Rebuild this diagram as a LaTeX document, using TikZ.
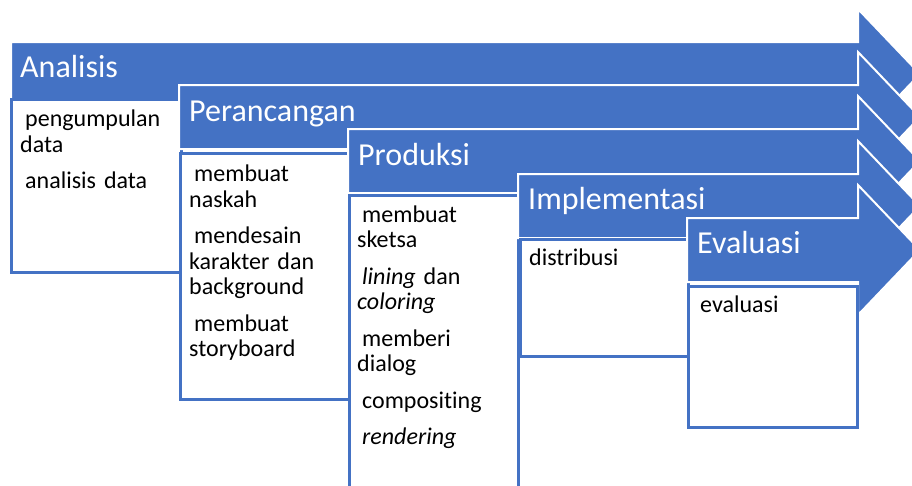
\documentclass[tikz,border=0pt]{standalone}
\usepackage{fontspec}
\setmainfont[Ligatures=NoCommon]{Carlito}
\definecolor{stageblue}{HTML}{4472C4}
\newcommand{\indentsp}{\hspace*{5pt}}
\tikzset{
  stagearrow/.style={fill=stageblue, draw=white, line width=2pt, line join=miter},
  stagebox/.style={draw=stageblue, fill=white, line width=2.5pt, anchor=north west, inner sep=0pt},
  headtext/.style={anchor=base west, inner sep=0pt, text=white, font=\fontsize{32}{38}\selectfont},
  itemtext/.style={anchor=base west, inner sep=0pt, text width=150pt, font=\fontsize{24}{25.5}\selectfont}
}
\begin{document}
\begin{tikzpicture}[x=1pt,y=-1pt]
  \useasboundingbox (0,0) rectangle (912,485);
  \clip (0,0) rectangle (912,485);
  % Analisis
  \draw[stagearrow] (11,42) -- (858,42) -- (858,9) -- (920,74) -- (858,139) -- (858,106) -- (11,106) -- cycle;
  \node[headtext] (analisis) at (20,77) {Analisis};
  \node[stagebox, minimum width=170, minimum height=173] (analisisbox) at (10,98) {};
  \node[itemtext] (analisisitems) at ([shift={(10,28.5)}]analisisbox.north west)
    {\indentsp pengumpulan\\data\\[11pt]\indentsp analisis data};
  % Perancangan
  \draw[stagearrow] (179,85) -- (858,85) -- (858,52) -- (920,117) -- (858,182) -- (858,149) -- (179,149) -- cycle;
  \node[headtext] (perancangan) at (189,121) {Perancangan};
  \node[stagebox, minimum width=169, minimum height=246] (perancanganbox) at (179,152) {};
  \node[itemtext] (perancanganitems) at ([shift={(10,29.5)}]perancanganbox.north west)
    {\indentsp membuat\\naskah\\[11pt]\indentsp mendesain\\karakter dan\\background\\[11pt]\indentsp membuat\\storyboard};
  % Produksi
  \draw[stagearrow] (348,129) -- (858,129) -- (858,96) -- (920,161) -- (858,226) -- (858,193) -- (348,193) -- cycle;
  \node[headtext] (produksi) at (358,165) {Produksi};
  \node[stagebox, minimum width=169, minimum height=320] (produksibox) at (348,194) {};
  \node[itemtext] (produksiitems) at ([shift={(9,28)}]produksibox.north west)
    {\indentsp membuat\\sketsa\\[11pt]\indentsp\textit{lining} dan\\\textit{coloring}\\[11pt]\indentsp memberi\\dialog\\[11pt]\indentsp compositing\\[11pt]\indentsp\textit{rendering}};
  % Implementasi
  \draw[stagearrow] (518,174) -- (858,174) -- (858,141) -- (920,206) -- (858,271) -- (858,238) -- (518,238) -- cycle;
  \node[headtext] (implementasi) at (528,209) {Implementasi};
  \node[stagebox, minimum width=168, minimum height=117] (implementasibox) at (519,238) {};
  \node[itemtext] (implementasiitems) at ([shift={(10,27)}]implementasibox.north west) {distribusi};
  % Evaluasi
  \draw[stagearrow] (687,218) -- (858,218) -- (858,185) -- (920,250) -- (858,315) -- (858,282) -- (687,282) -- cycle;
  \node[headtext] (evaluasi) at (697,253) {Evaluasi};
  \node[stagebox, minimum width=169, minimum height=141] (evaluasibox) at (687,285) {};
  \node[itemtext] (evaluasiitems) at ([shift={(8,27)}]evaluasibox.north west) {\indentsp evaluasi};
\end{tikzpicture}
\end{document}
